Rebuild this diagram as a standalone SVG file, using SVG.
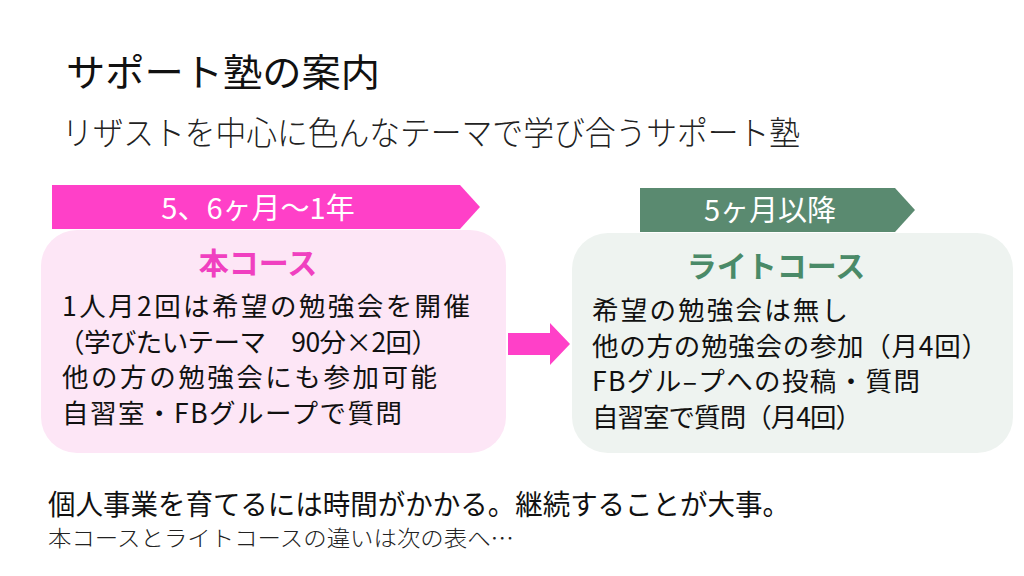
<svg xmlns="http://www.w3.org/2000/svg" width="1024" height="576" viewBox="0 0 1024 576">
<style>
.ttl{font-family:"Noto Sans CJK JP","Noto Sans",sans-serif;font-weight:400;fill:#111}
.sub{font-family:"Noto Sans CJK JP","Noto Sans",sans-serif;font-weight:300;fill:#222}
.body{font-family:"Noto Sans CJK JP","Noto Sans",sans-serif;font-size:26.5px;font-weight:400;fill:#111}
.ban{font-family:"Noto Sans CJK JP","Noto Sans",sans-serif;font-size:29px;font-weight:400;fill:#fff;text-anchor:middle}
.head{font-family:"Noto Sans CJK JP","Noto Sans",sans-serif;font-size:30px;font-weight:700;text-anchor:middle}
</style>
<rect width="1024" height="576" fill="#ffffff"/>
<g id="title">
<text class="ttl" x="66" y="86" font-size="38" textLength="314" lengthAdjust="spacingAndGlyphs">サポート塾の案内</text>
<text class="sub" x="62" y="145" font-size="33" textLength="738" lengthAdjust="spacingAndGlyphs">リザストを中心に色んなテーマで学び合うサポート塾</text>
</g>
<g id="main-course">
<rect x="41" y="230" width="465" height="223" rx="36" fill="#fde6f6"/>
<polygon points="52,185 460,185 480,207 460,229 52,229" fill="#ff40c8"/>
<text class="ban" x="258" y="219">5、6ヶ月～1年</text>
<text class="head" x="258" y="274" fill="#f040c0">本コース</text>
<text class="body" x="62" y="316" textLength="408" lengthAdjust="spacing">1人月2回は希望の勉強会を開催</text>
<text class="body" x="58" y="351.5" textLength="380" lengthAdjust="spacing">（学びたいテーマ　90分×2回）</text>
<text class="body" x="62" y="387" textLength="375" lengthAdjust="spacing">他の方の勉強会にも参加可能</text>
<text class="body" x="62" y="422.5" textLength="340" lengthAdjust="spacing">自習室・FBグループで質問</text>
</g>
<g id="light-course">
<rect x="572" y="233" width="441" height="220" rx="36" fill="#eef3f0"/>
<polygon points="640,188 895,188 915,210 895,232 640,232" fill="#5a8a70"/>
<text class="ban" x="770" y="221">5ヶ月以降</text>
<text class="head" x="776" y="277" fill="#4a8a68">ライトコース</text>
<text class="body" x="592" y="320" textLength="256" lengthAdjust="spacing">希望の勉強会は無し</text>
<text class="body" x="592" y="355.5" textLength="396" lengthAdjust="spacing">他の方の勉強会の参加（月4回）</text>
<text class="body" x="592" y="391" textLength="328" lengthAdjust="spacing">FBグル–プへの投稿・質問</text>
<text class="body" x="592" y="426.5" textLength="270" lengthAdjust="spacing">自習室で質問（月4回）</text>
</g>
<g id="connectors">
<polygon points="508,333 550,333 550,323 570,344 550,365 550,355 508,355" fill="#ff40c8"/>
</g>
<g id="footer">
<text class="ttl" x="48" y="515" font-size="28" textLength="742" lengthAdjust="spacingAndGlyphs">個人事業を育てるには時間がかかる。継続することが大事。</text>
<text class="sub" x="48" y="546" font-size="22" fill="#333" textLength="466" lengthAdjust="spacingAndGlyphs">本コースとライトコースの違いは次の表へ…</text>
</g>
</svg>
